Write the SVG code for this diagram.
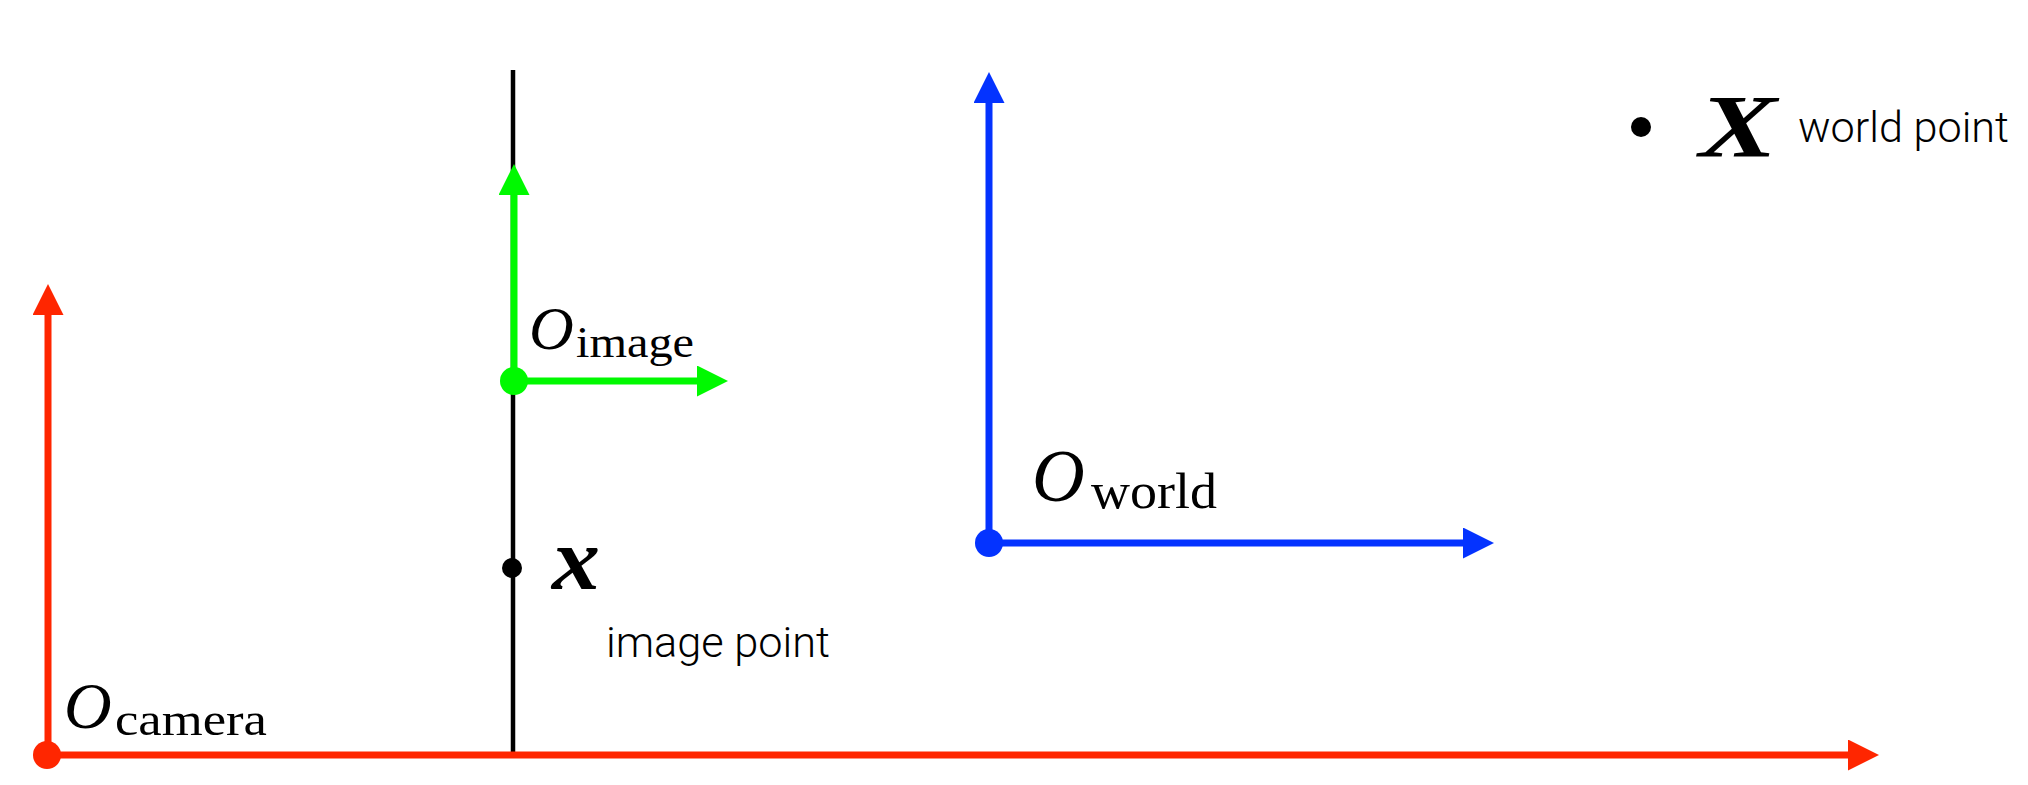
<svg xmlns="http://www.w3.org/2000/svg" width="2028" height="785" viewBox="0 0 2028 785">
<style>
.math{font-family:"Liberation Serif","Times New Roman",serif;fill:#000}
.mi{font-style:italic}
.mb{font-style:italic;font-weight:bold}
.lbl{font-family:Roboto,"Liberation Sans",Arial,sans-serif;font-weight:300;fill:#000}
.ax{stroke-width:7;fill:none}
.red{stroke:#FF2600}
.green{stroke:#00F900}
.blue{stroke:#0433FF}
</style>
<defs>
<marker id="ahRed" markerUnits="userSpaceOnUse" markerWidth="31" markerHeight="31" refX="0" refY="15.5" orient="auto" viewBox="0 0 31 31"><path d="M0,0 L31,15.5 L0,31 z" fill="#FF2600"/></marker>
<marker id="ahGreen" markerUnits="userSpaceOnUse" markerWidth="31" markerHeight="31" refX="0" refY="15.5" orient="auto" viewBox="0 0 31 31"><path d="M0,0 L31,15.5 L0,31 z" fill="#00F900"/></marker>
<marker id="ahBlue" markerUnits="userSpaceOnUse" markerWidth="31" markerHeight="31" refX="0" refY="15.5" orient="auto" viewBox="0 0 31 31"><path d="M0,0 L31,15.5 L0,31 z" fill="#0433FF"/></marker>
</defs>
<rect width="2028" height="785" fill="#fff"/>
<g id="image-plane">
<line x1="513" y1="70" x2="513" y2="754" stroke="#000" stroke-width="4.5"/>
</g>
<g id="connectors">
<line class="ax red" x1="48" y1="755" x2="48" y2="315" marker-end="url(#ahRed)"/>
<line class="ax red" x1="48" y1="755" x2="1848" y2="755" marker-end="url(#ahRed)"/>
<line class="ax green" x1="514" y1="381" x2="514" y2="195" marker-end="url(#ahGreen)"/>
<line class="ax green" x1="514" y1="381" x2="697" y2="381" marker-end="url(#ahGreen)"/>
<line class="ax blue" x1="989" y1="543" x2="989" y2="103" marker-end="url(#ahBlue)"/>
<line class="ax blue" x1="989" y1="543" x2="1463" y2="543" marker-end="url(#ahBlue)"/>
</g>
<g id="camera-origin">
<circle cx="47" cy="755" r="14" fill="#FF2600"/>
<text class="math mi" x="64" y="728" font-size="66">O</text>
<text class="math" x="115" y="735" font-size="46" textLength="152" lengthAdjust="spacingAndGlyphs">camera</text>
</g>
<g id="image-origin">
<circle cx="514" cy="381" r="14" fill="#00F900"/>
<text class="math mi" x="529" y="349" font-size="62">O</text>
<text class="math" x="576" y="357" font-size="44" textLength="118" lengthAdjust="spacingAndGlyphs">image</text>
</g>
<g id="world-origin">
<circle cx="989" cy="543" r="14" fill="#0433FF"/>
<text class="math mi" x="1032" y="501" font-size="73">O</text>
<text class="math" x="1091" y="508" font-size="50" textLength="126" lengthAdjust="spacingAndGlyphs">world</text>
</g>
<g id="image-point">
<circle cx="512" cy="568" r="10" fill="#000"/>
<text class="math mb" x="552" y="589" font-size="88" textLength="48" lengthAdjust="spacingAndGlyphs">x</text>
<text class="lbl" x="606" y="657" font-size="43" textLength="224" lengthAdjust="spacingAndGlyphs">image point</text>
</g>
<g id="world-point">
<circle cx="1641" cy="127" r="10" fill="#000"/>
<text class="math mb" x="1699" y="156" font-size="88" textLength="78" lengthAdjust="spacingAndGlyphs">X</text>
<text class="lbl" x="1798" y="142" font-size="42" textLength="211" lengthAdjust="spacingAndGlyphs">world point</text>
</g>
</svg>
